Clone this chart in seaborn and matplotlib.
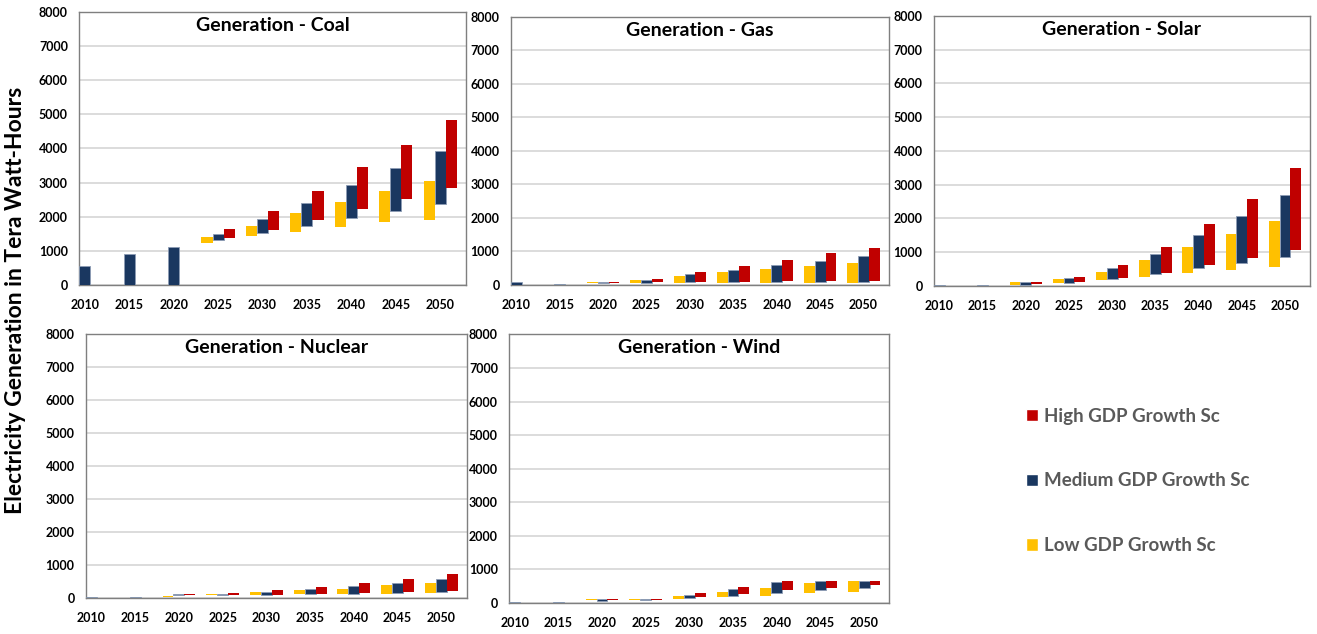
import numpy as np
import matplotlib
matplotlib.use("Agg")
import matplotlib.pyplot as plt
import seaborn as sns
from matplotlib.patches import Patch

nan = np.nan
years = ["2010", "2015", "2020", "2025", "2030", "2035", "2040", "2045", "2050"]
scenarios = ["High GDP Growth Sc", "Medium GDP Growth Sc", "Low GDP Growth Sc"]

# each series is (bottom, top) of a floating bar, in TWh
coal_low_lo = [nan, nan, nan, 1218, 1423, 1540, 1686, 1832, 1910]
coal_low_hi = [nan, nan, nan, 1413, 1735, 2095, 2437, 2758, 3051]
coal_med_lo = [0, 0, 0, 1306, 1520, 1725, 1949, 2173, 2378]
coal_med_hi = [565, 906, 1101, 1491, 1920, 2407, 2934, 3441, 3930]
coal_high_lo = [nan, nan, nan, 1384, 1618, 1910, 2232, 2524, 2846]
coal_high_hi = [nan, nan, nan, 1647, 2154, 2758, 3470, 4103, 4840]

gas_low_lo = [nan, nan, 70, 71, 71, 71, 71, 71, 71]
gas_low_hi = [nan, nan, 100, 162, 253, 374, 465, 566, 646]
gas_med_lo = [0, 0, 70, 71, 101, 101, 101, 101, 101]
gas_med_hi = [81, 30, 100, 162, 313, 455, 606, 727, 879]
gas_high_lo = [nan, nan, 70, 101, 101, 101, 131, 131, 131]
gas_high_hi = [nan, nan, 100, 192, 374, 556, 737, 949, 1101]

solar_low_lo = [nan, nan, 30, 98, 187, 275, 393, 482, 570]
solar_low_hi = [nan, nan, 118, 216, 413, 767, 1150, 1534, 1917]
solar_med_lo = [0, 0, 30, 98, 206, 354, 531, 678, 846]
solar_med_hi = [30, 30, 118, 236, 521, 944, 1495, 2065, 2684]
solar_high_lo = [nan, nan, 59, 118, 246, 393, 629, 836, 1072]
solar_high_hi = [nan, nan, 118, 265, 619, 1150, 1829, 2586, 3481]

nuclear_low_lo = [nan, nan, 40, 81, 81, 111, 111, 111, 141]
nuclear_low_hi = [nan, nan, 71, 111, 172, 232, 283, 384, 444]
nuclear_med_lo = [0, 0, 81, 81, 101, 121, 131, 141, 172]
nuclear_med_hi = [30, 30, 111, 111, 192, 263, 374, 465, 576]
nuclear_high_lo = [nan, nan, 81, 81, 101, 131, 141, 172, 202]
nuclear_high_hi = [nan, nan, 111, 141, 232, 323, 465, 586, 737]

wind_low_lo = [nan, nan, 70, 90, 120, 180, 210, 280, 310]
wind_low_hi = [nan, nan, 100, 120, 210, 330, 450, 600, 660]
wind_med_lo = [0, 0, 60, 80, 140, 210, 290, 380, 440]
wind_med_hi = [30, 30, 100, 120, 240, 410, 610, 660, 660]
wind_high_lo = [nan, nan, 70, 90, 180, 250, 370, 450, 540]
wind_high_hi = [nan, nan, 100, 120, 300, 480, 660, 660, 660]

panels = [
    ("Generation - Coal", [0.0600, 0.5505, 0.2938, 0.4306],
     coal_low_lo, coal_low_hi, coal_med_lo, coal_med_hi, coal_high_lo, coal_high_hi),
    ("Generation - Gas", [0.3878, 0.5505, 0.2870, 0.4232],
     gas_low_lo, gas_low_hi, gas_med_lo, gas_med_hi, gas_high_lo, gas_high_hi),
    ("Generation - Solar", [0.7090, 0.5489, 0.2857, 0.4263],
     solar_low_lo, solar_low_hi, solar_med_lo, solar_med_hi, solar_high_lo, solar_high_hi),
    ("Generation - Nuclear", [0.0651, 0.0568, 0.2893, 0.4164],
     nuclear_low_lo, nuclear_low_hi, nuclear_med_lo, nuclear_med_hi, nuclear_high_lo, nuclear_high_hi),
    ("Generation - Wind", [0.3865, 0.0494, 0.2888, 0.4230],
     wind_low_lo, wind_low_hi, wind_med_lo, wind_med_hi, wind_high_lo, wind_high_hi),
]

sns.set_theme(style="whitegrid")
plt.rcParams["font.family"] = ["Lato", "DejaVu Sans"]

palette = sns.color_palette(["#FFC000", "#1A3760", "#C00000"])
low_c, med_c, high_c = palette

fig = plt.figure(figsize=(13.17, 6.34), dpi=100)

width = 0.25
x = np.arange(len(years))

for title, rect, llo, lhi, mlo, mhi, hlo, hhi in panels:
    ax = fig.add_axes(rect)
    for off, lo, hi, col, ec in [(-width, llo, lhi, low_c, "none"),
                                 (0, mlo, mhi, med_c, "#8c9cb4"),
                                 (width, hlo, hhi, high_c, "none")]:
        lo = np.array(lo, dtype=float)
        hi = np.array(hi, dtype=float)
        ax.bar(x + off, hi - lo, width, bottom=lo, color=col,
               edgecolor=ec, linewidth=0.6, zorder=3)
    ax.set_xlim(-0.13, 8.58)
    ax.set_ylim(0, 8000)
    ax.set_yticks(np.arange(0, 8001, 1000))
    ax.set_xticks(x)
    ax.set_xticklabels(years)
    ax.grid(axis="x", visible=False)
    ax.grid(axis="y", color="#d9d9d9", linewidth=1.3, zorder=0)
    ax.set_axisbelow(True)
    ax.tick_params(axis="y", length=0, pad=8, labelsize=9)
    ax.tick_params(axis="x", length=0, pad=10, labelsize=9)
    for lab in ax.get_xticklabels() + ax.get_yticklabels():
        lab.set_fontweight("bold")
        lab.set_color("black")
    for sp in ax.spines.values():
        sp.set_visible(True)
        sp.set_color("#7f7f7f")
        sp.set_linewidth(1.0)
    ax.set_facecolor("white")
    ax.text(0.5, 0.95, title, transform=ax.transAxes, ha="center", va="center",
            fontsize=14, fontweight="bold", color="black")

fig.text(0.012, 0.527, "Electricity Generation in Tera Watt-Hours", rotation=90,
         ha="center", va="center", fontsize=16.5, fontweight="bold", color="black")

handles = [Patch(facecolor=high_c, label=scenarios[0]),
           Patch(facecolor=med_c, label=scenarios[1]),
           Patch(facecolor=low_c, label=scenarios[2])]
leg = fig.legend(handles=handles, loc="center left", bbox_to_anchor=(1009 / 1317, 1 - 481 / 634),
                 frameon=False, fontsize=13.5, labelspacing=2.55, handlelength=0.65,
                 handleheight=0.65, handletextpad=0.3)
for t in leg.get_texts():
    t.set_color("#595959")
    t.set_fontweight("bold")

fig.savefig("out.png", dpi=100)
